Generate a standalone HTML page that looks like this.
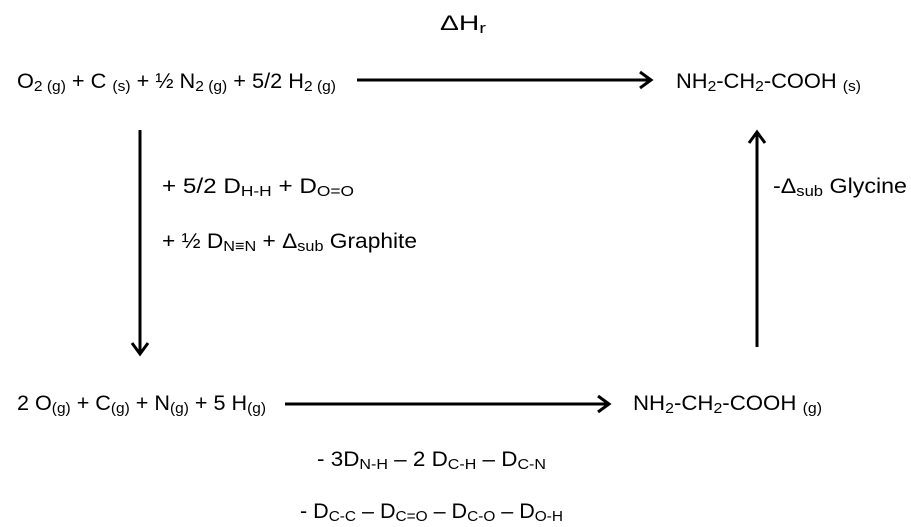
<!DOCTYPE html>
<html><head><meta charset="utf-8"><style>
html,body{margin:0;padding:0;background:#fff;}
svg{display:block;}
text{font-family:"Liberation Sans",sans-serif;font-size:21px;fill:#000;}
.s{font-size:15px;}
</style></head><body>
<svg width="911" height="527" viewBox="0 0 911 527" xmlns="http://www.w3.org/2000/svg">
<g stroke="#000" stroke-width="3" fill="none">
<line x1="357" y1="80" x2="650" y2="80"/>
<polyline points="640,72 651,80 640,88" stroke-width="3"/>
<line x1="140" y1="130" x2="140" y2="353"/>
<polyline points="132,343 140,354 148,343" stroke-width="3"/>
<line x1="757" y1="133" x2="757" y2="347"/>
<polyline points="749,143 757,132 765,143" stroke-width="3"/>
<line x1="285" y1="404" x2="608" y2="404"/>
<polyline points="598,396 609,404 598,412" stroke-width="3"/>
</g>
<text x="440" y="30" textLength="46" lengthAdjust="spacingAndGlyphs">ΔH<tspan class="s" dy="3">r</tspan></text>
<text x="17" y="88" textLength="319" lengthAdjust="spacingAndGlyphs">O<tspan class="s" dy="3">2 (g)</tspan><tspan dy="-3"> + C </tspan><tspan class="s" dy="3">(s)</tspan><tspan dy="-3"> + ½ N</tspan><tspan class="s" dy="3">2 (g)</tspan><tspan dy="-3"> + 5/2 H</tspan><tspan class="s" dy="3">2 (g)</tspan></text>
<text x="676" y="88" textLength="185" lengthAdjust="spacingAndGlyphs">NH<tspan class="s" dy="3">2</tspan><tspan dy="-3">-CH</tspan><tspan class="s" dy="3">2</tspan><tspan dy="-3">-COOH </tspan><tspan class="s" dy="3">(s)</tspan></text>
<text x="162" y="193" textLength="192" lengthAdjust="spacingAndGlyphs">+ 5/2 D<tspan class="s" dy="3">H-H</tspan><tspan dy="-3"> + D</tspan><tspan class="s" dy="3">O=O</tspan></text>
<text x="162" y="248" textLength="255" lengthAdjust="spacingAndGlyphs">+ ½ D<tspan class="s" dy="3">N≡N</tspan><tspan dy="-3"> + Δ</tspan><tspan class="s" dy="3">sub</tspan><tspan dy="-3"> Graphite</tspan></text>
<text x="773" y="193" textLength="134" lengthAdjust="spacingAndGlyphs">-Δ<tspan class="s" dy="3">sub</tspan><tspan dy="-3"> Glycine</tspan></text>
<text x="17" y="410" textLength="249" lengthAdjust="spacingAndGlyphs">2 O<tspan class="s" dy="3">(g)</tspan><tspan dy="-3"> + C</tspan><tspan class="s" dy="3">(g)</tspan><tspan dy="-3"> + N</tspan><tspan class="s" dy="3">(g)</tspan><tspan dy="-3"> + 5 H</tspan><tspan class="s" dy="3">(g)</tspan></text>
<text x="633" y="410" textLength="189" lengthAdjust="spacingAndGlyphs">NH<tspan class="s" dy="3">2</tspan><tspan dy="-3">-CH</tspan><tspan class="s" dy="3">2</tspan><tspan dy="-3">-COOH </tspan><tspan class="s" dy="3">(g)</tspan></text>
<text x="317" y="466" textLength="229" lengthAdjust="spacingAndGlyphs">- 3D<tspan class="s" dy="3">N-H</tspan><tspan dy="-3"> – 2 D</tspan><tspan class="s" dy="3">C-H</tspan><tspan dy="-3"> – D</tspan><tspan class="s" dy="3">C-N</tspan></text>
<text x="300" y="518" textLength="263" lengthAdjust="spacingAndGlyphs">- D<tspan class="s" dy="3">C-C</tspan><tspan dy="-3"> – D</tspan><tspan class="s" dy="3">C=O</tspan><tspan dy="-3"> – D</tspan><tspan class="s" dy="3">C-O</tspan><tspan dy="-3"> – D</tspan><tspan class="s" dy="3">O-H</tspan></text>
</svg>
</body></html>
